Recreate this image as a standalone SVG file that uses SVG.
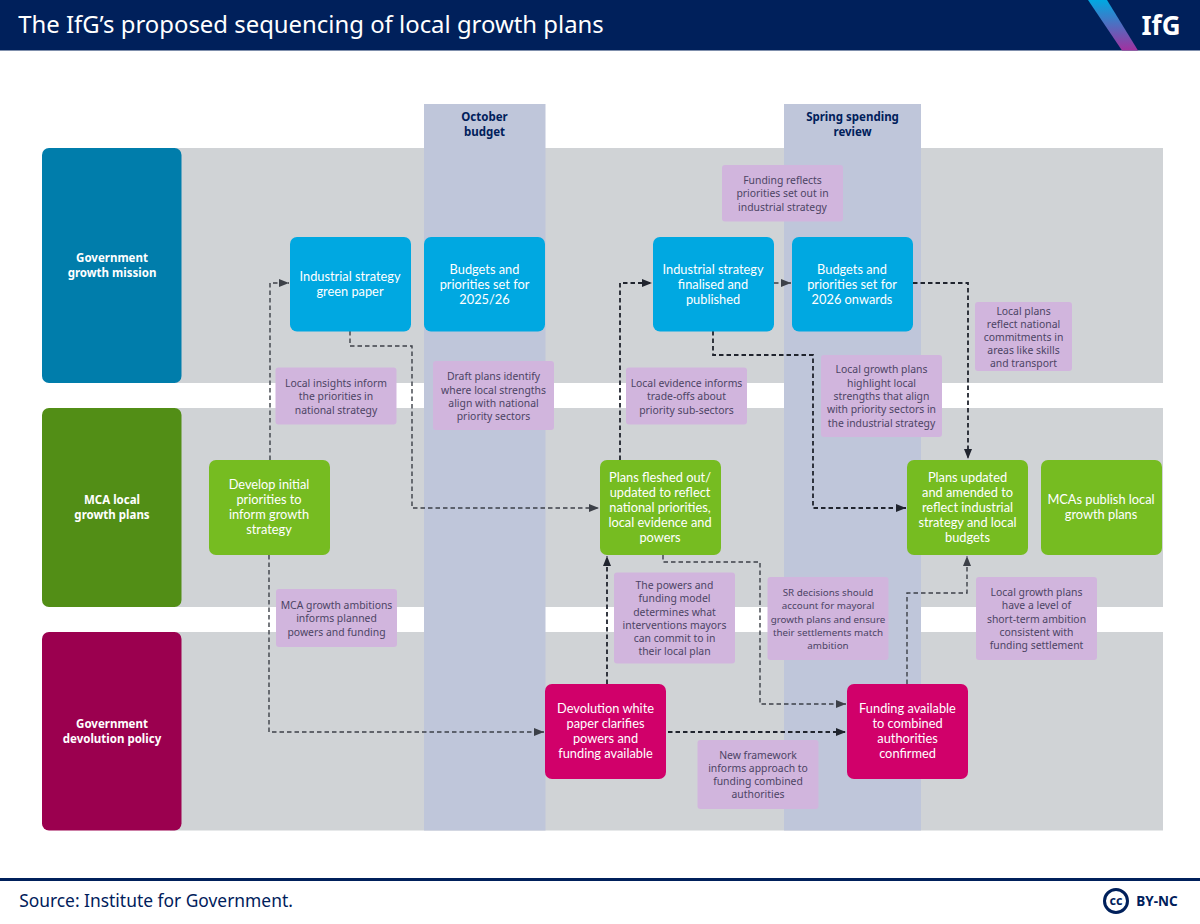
<svg xmlns="http://www.w3.org/2000/svg" width="1200" height="924" viewBox="0 0 1200 924">
<style>
text{font-family:"Noto Sans","Open Sans","Liberation Sans",sans-serif;text-anchor:middle}
.n text{fill:#fff;font-size:12.8px;font-family:Lato,"Noto Sans",sans-serif}
.l text{fill:#fff;font-size:11.5px;font-weight:700}
.p rect{fill:#d1b5dd}
.p text{fill:#4c4464;font-size:10.4px}
.b{fill:#00a8e1}.g{fill:#76bc21}.m{fill:#d1006a}
.c path{fill:none;stroke:#20242e;stroke-width:1.8;stroke-dasharray:4.5 3}
.c path.t{stroke:#3c4048;stroke-width:1.4}
.col text{fill:#00205b;font-size:11.5px;font-weight:700}
</style>
<defs>
<marker id="a" markerWidth="12" markerHeight="9" refX="10" refY="4.500" orient="auto" markerUnits="userSpaceOnUse"><path d="M0 0.500L10 4.500L0 8.500z" fill="#20242e"/></marker>
<marker id="h" markerWidth="12" markerHeight="9" refX="10" refY="4.500" orient="auto" markerUnits="userSpaceOnUse"><path d="M0 0.500L10 4.500L0 8.500z" fill="#3c4048"/></marker>
<linearGradient id="st" x1="0" y1="0" x2="0" y2="1"><stop offset="0" stop-color="#00a8e1"/><stop offset="1" stop-color="#a2319f"/></linearGradient>
</defs>
<rect width="1200" height="924" fill="#fff"/>
<g id="header"><rect width="1200" height="50.500" fill="#00205b"/>
<polygon points="1088,0 1107,0 1138,50.500 1122,50.500" fill="url(#st)"/>
<text x="311" y="33" style="font-size:23.900px;fill:#fff">The IfG’s proposed sequencing of local growth plans</text>
<text x="1161" y="35" style="font-size:26px;font-weight:700;fill:#fff">IfG</text></g>
<g id="bands" fill="#d0d3d6"><rect x="170" y="148" width="993" height="235"/><rect x="170" y="408" width="993" height="199"/><rect x="170" y="632" width="993" height="198.500"/></g>
<g id="columns" class="col"><rect x="424" y="104" width="121.500" height="726.500" fill="#bfc6da"/><rect x="784" y="104" width="137" height="726.500" fill="#bfc6da"/>
<text x="484.500" y="121">October</text><text x="484.500" y="136">budget</text><text x="852.500" y="121">Spring spending</text><text x="852.500" y="136">review</text></g>
<g id="row-growth" class="l"><rect x="42" y="148" width="139.500" height="235" rx="7" fill="#007dab"/><text x="112" y="262">Government</text><text x="112" y="277">growth mission</text></g>
<g id="row-mca" class="l"><rect x="42" y="408" width="139.500" height="199" rx="7" fill="#528e16"/><text x="112" y="504">MCA local</text><text x="112" y="519">growth plans</text></g>
<g id="row-devo" class="l"><rect x="42" y="632" width="139.500" height="198.500" rx="7" fill="#9b004f"/><text x="112" y="728">Government</text><text x="112" y="743">devolution policy</text></g>
<g id="connectors" class="c">
<path class="t" d="M270 460V283H289" marker-end="url(#h)"/>
<path class="t" d="M350 331V346H412V508H599" marker-end="url(#h)"/>
<path d="M620 460V283H652" marker-end="url(#a)"/>
<path class="t" d="M774 283H791" marker-end="url(#h)"/>
<path d="M913 283H968V459" marker-end="url(#a)"/>
<path d="M713 331V355H813V508H906" marker-end="url(#a)"/>
<path class="t" d="M269 555V732H544" marker-end="url(#h)"/>
<path d="M607 684V556" marker-end="url(#a)"/>
<path d="M668 732H846" marker-end="url(#a)"/>
<path class="t" d="M663 555V562H760V704H846" marker-end="url(#h)"/>
<path class="t" d="M907 684V593H967V556" marker-end="url(#h)"/>
</g>
<g id="n1" class="n"><rect class="b" x="290" y="237" width="121" height="94.500" rx="7"/><text x="350" y="281">Industrial strategy</text><text x="350" y="296">green paper</text></g>
<g id="n2" class="n"><rect class="b" x="424" y="237" width="121" height="94.500" rx="7"/><text x="484.500" y="273.500">Budgets and</text><text x="484.500" y="288.500">priorities set for</text><text x="484.500" y="303.500">2025/26</text></g>
<g id="n3" class="n"><rect class="b" x="653" y="237" width="121" height="94.500" rx="7"/><text x="713" y="273.500">Industrial strategy</text><text x="713" y="288.500">finalised and</text><text x="713" y="303.500">published</text></g>
<g id="n4" class="n"><rect class="b" x="792" y="237" width="121" height="94.500" rx="7"/><text x="852" y="273.500">Budgets and</text><text x="852" y="288.500">priorities set for</text><text x="852" y="303.500">2026 onwards</text></g>
<g id="n5" class="n"><rect class="g" x="209" y="460" width="121" height="95" rx="7"/><text x="269" y="489">Develop initial</text><text x="269" y="504">priorities to</text><text x="269" y="519">inform growth</text><text x="269" y="534">strategy</text></g>
<g id="n6" class="n"><rect class="g" x="600" y="460" width="121" height="95" rx="7"/><text x="660" y="482">Plans fleshed out/</text><text x="660" y="497">updated to reflect</text><text x="660" y="512">national priorities,</text><text x="660" y="527">local evidence and</text><text x="660" y="542">powers</text></g>
<g id="n7" class="n"><rect class="g" x="907" y="460" width="121" height="95" rx="7"/><text x="967.500" y="482">Plans updated</text><text x="967.500" y="497">and amended to</text><text x="967.500" y="512">reflect industrial</text><text x="967.500" y="527">strategy and local</text><text x="967.500" y="542">budgets</text></g>
<g id="n8" class="n"><rect class="g" x="1041" y="460" width="121" height="95" rx="7"/><text x="1101" y="504">MCAs publish local</text><text x="1101" y="519">growth plans</text></g>
<g id="n9" class="n"><rect class="m" x="545" y="684" width="121" height="95" rx="7"/><text x="605.500" y="713">Devolution white</text><text x="605.500" y="728">paper clarifies</text><text x="605.500" y="743">powers and</text><text x="605.500" y="758">funding available</text></g>
<g id="n10" class="n"><rect class="m" x="847" y="684" width="121" height="95" rx="7"/><text x="907.500" y="713">Funding available</text><text x="907.500" y="728">to combined</text><text x="907.500" y="743">authorities</text><text x="907.500" y="758">confirmed</text></g>
<g id="p1" class="p"><rect x="722" y="165" width="121" height="56.500" rx="3"/><text x="782.500" y="184">Funding reflects</text><text x="782.500" y="197">priorities set out in</text><text x="782.500" y="211">industrial strategy</text></g>
<g id="p2" class="p"><rect x="975" y="302" width="97" height="69" rx="3"/><text x="1023.500" y="315">Local plans</text><text x="1023.500" y="328">reflect national</text><text x="1023.500" y="341">commitments in</text><text x="1023.500" y="354">areas like skills</text><text x="1023.500" y="367">and transport</text></g>
<g id="p3" class="p"><rect x="275.500" y="367.500" width="121" height="57" rx="3"/><text x="336" y="387">Local insights inform</text><text x="336" y="400">the priorities in</text><text x="336" y="413.500">national strategy</text></g>
<g id="p4" class="p"><rect x="433" y="361" width="121" height="69" rx="3"/><text x="493.500" y="380">Draft plans identify</text><text x="493.500" y="393.500">where local strengths</text><text x="493.500" y="407">align with national</text><text x="493.500" y="420">priority sectors</text></g>
<g id="p5" class="p"><rect x="626" y="367.500" width="121" height="57" rx="3"/><text x="686.500" y="387">Local evidence informs</text><text x="686.500" y="400">trade-offs about</text><text x="686.500" y="413.500">priority sub-sectors</text></g>
<g id="p6" class="p"><rect x="821" y="355" width="121" height="82" rx="3"/><text x="881.500" y="373">Local growth plans</text><text x="881.500" y="386.500">highlight local</text><text x="881.500" y="399.500">strengths that align</text><text x="881.500" y="413">with priority sectors in</text><text x="881.500" y="426.500">the industrial strategy</text></g>
<g id="p7" class="p"><rect x="276" y="589" width="121" height="58" rx="3"/><text x="336.500" y="609">MCA growth ambitions</text><text x="336.500" y="622">informs planned</text><text x="336.500" y="635.500">powers and funding</text></g>
<g id="p8" class="p"><rect x="614" y="572.500" width="121" height="91" rx="3"/><text x="674.500" y="589">The powers and</text><text x="674.500" y="602">funding model</text><text x="674.500" y="615.500">determines what</text><text x="674.500" y="629">interventions mayors</text><text x="674.500" y="642">can commit to in</text><text x="674.500" y="655">their local plan</text></g>
<g id="p9" class="p" style="font-size:10px"><rect x="767.500" y="577" width="121" height="83" rx="3"/><text x="828" y="596" style="font-size:9.800px">SR decisions should</text><text x="828" y="609" style="font-size:9.800px">account for mayoral</text><text x="828" y="622.500" style="font-size:9.800px">growth plans and ensure</text><text x="828" y="635.500" style="font-size:9.800px">their settlements match</text><text x="828" y="649" style="font-size:9.800px">ambition</text></g>
<g id="p10" class="p"><rect x="976" y="577" width="121" height="83" rx="3"/><text x="1036.500" y="596">Local growth plans</text><text x="1036.500" y="609">have a level of</text><text x="1036.500" y="622.500">short-term ambition</text><text x="1036.500" y="635.500">consistent with</text><text x="1036.500" y="649">funding settlement</text></g>
<g id="p11" class="p"><rect x="697.500" y="740" width="121" height="69" rx="3"/><text x="758" y="758.500">New framework</text><text x="758" y="771.500">informs approach to</text><text x="758" y="785">funding combined</text><text x="758" y="798">authorities</text></g>
<g id="footer"><rect x="0" y="878" width="1200" height="3" fill="#00205b"/>
<text x="156" y="907" style="font-size:17.400px;fill:#00205b">Source: Institute for Government.</text>
<circle cx="1116" cy="901" r="11.500" fill="none" stroke="#00205b" stroke-width="3"/>
<text x="1116" y="905" style="font-size:12.500px;font-weight:700;fill:#00205b">cc</text>
<text x="1157" y="906" style="font-size:13.500px;font-weight:700;fill:#00205b">BY-NC</text></g>
</svg>
